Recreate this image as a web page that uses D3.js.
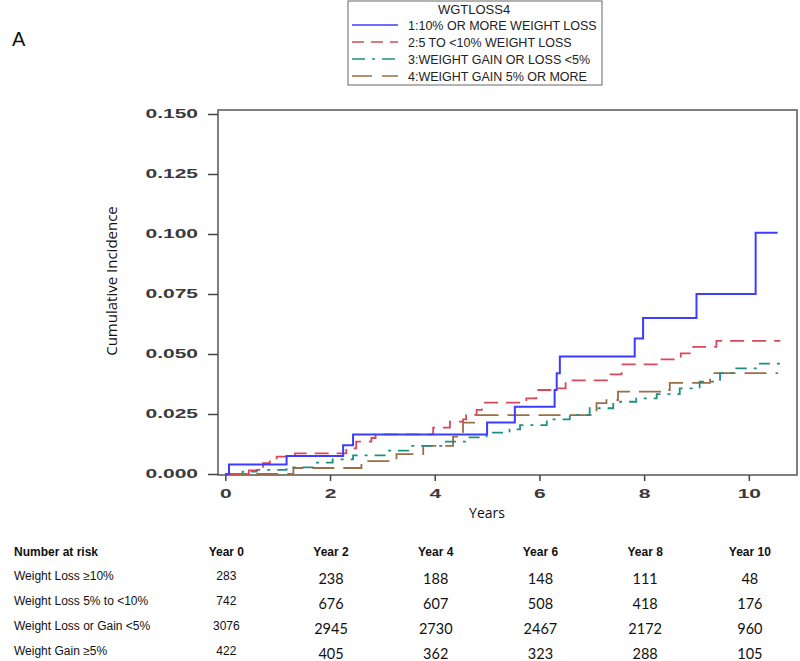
<!DOCTYPE html>
<html>
<head>
<meta charset="utf-8">
<script src="https://cdn.jsdelivr.net/npm/d3@7"></script>
<style>
  body { margin: 0; background: #fff; }
  text { font-family: "Liberation Sans", Arial, sans-serif; }
</style>
</head>
<body>
<div id="graph"></div>
<script>
var w = 800
var h = 661

// step points [years, cumulative incidence]
var lossTen = [[0,0],[0.07,0.004],[1.17,0.0075],[2.25,0.012],[2.44,0.0165],[5.0,0.0215],[5.53,0.028],
  [6.29,0.035],[6.33,0.042],[6.39,0.049],[7.82,0.0565],[7.98,0.065],[9.0,0.075],[10.13,0.1005],[10.55,0.1005]]
var lossFive = [[0,0],[0.45,0.0015],[0.6,0.003],[0.72,0.0045],[0.85,0.006],[0.98,0.0072],[1.33,0.0086],
  [2.31,0.0107],[2.5,0.0135],[2.79,0.015],[2.87,0.0165],[3.97,0.0193],[4.29,0.0218],[4.54,0.0228],
  [4.6,0.0246],[4.8,0.0267],[4.9,0.0297],[5.75,0.0315],[5.94,0.035],[6.29,0.0357],[6.5,0.039],
  [7.34,0.0415],[7.57,0.0457],[8.3,0.0478],[8.7,0.0503],[8.94,0.053],[9.38,0.0555],[10.6,0.0555]]
var stable = [[0,0],[0.33,0.001],[0.6,0.0017],[1.17,0.0028],[1.67,0.0047],[2.05,0.0061],[2.44,0.0078],
  [3.08,0.0097],[3.52,0.0117],[4.16,0.0135],[4.6,0.0153],[4.99,0.0172],[5.43,0.0186],[5.63,0.0204],
  [6.14,0.0228],[6.58,0.0246],[6.96,0.0274],[7.41,0.0301],[7.85,0.0315],[8.24,0.0333],[8.68,0.0357],
  [9.06,0.0385],[9.45,0.042],[9.76,0.044],[10.21,0.046],[10.7,0.0465]]
var gainFive = [[0,0],[1.3,0.0025],[2.6,0.0054],[3.27,0.0083],[3.78,0.0117],[4.35,0.0156],[4.54,0.0214],
  [4.8,0.0245],[7.09,0.0295],[7.28,0.0308],[7.5,0.0343],[8.43,0.035],[8.49,0.038],[9.26,0.042],[10.56,0.042]]

var legendTitle = "WGTLOSS4"
var seriesNames = ["1:10% OR MORE WEIGHT LOSS", "2:5 TO <10% WEIGHT LOSS",
  "3:WEIGHT GAIN OR LOSS <5%", "4:WEIGHT GAIN 5% OR MORE"]
var seriesColors = ["#3d3dff", "#d9485a", "#1f8f80", "#9b6d48"]
var seriesDash = [null, "14,8", "11,7,3,7", "22,9"]
var legendDash = [null, "12,7", "13,7,3,7", "20,10"]

var xTicks = [0, 2, 4, 6, 8, 10]
var yTicks = [0, 0.025, 0.05, 0.075, 0.1, 0.125, 0.15]

var riskYears = [0, 2, 4, 6, 8, 10]
var riskHeaders = ["Year 0", "Year 2", "Year 4", "Year 6", "Year 8", "Year 10"]
var riskGroups = ["Weight Loss \u226510%", "Weight Loss 5% to <10%", "Weight Loss or Gain <5%", "Weight Gain \u22655%"]
var riskLossTen = [283, 238, 188, 148, 111, 48]
var riskLossFive = [742, 676, 607, 508, 418, 176]
var riskStable = [3076, 2945, 2730, 2467, 2172, 960]
var riskGainFive = [422, 405, 362, 323, 288, 105]

var series = [lossTen, lossFive, stable, gainFive]
var riskRows = [riskLossTen, riskLossFive, riskStable, riskGainFive]

var svg = d3.select("#graph").append("svg")
    .attr("width", w)
    .attr("height", h)

// plot box (named so they do not clash with window.top)
var boxL = 218, boxR = 797, boxT = 110, boxB = 475

var x = d3.scaleLinear().domain([-0.14, 10.92]).range([boxL, boxR])
var y = d3.scaleLinear().domain([0, 0.15]).range([474, 114])

// panel letter
svg.append("text").attr("x", 12).attr("y", 46)
    .style("font-size", "20px").attr("fill", "#111").text("A")

// frame
svg.append("rect")
    .attr("x", boxL).attr("y", boxT)
    .attr("width", boxR - boxL).attr("height", boxB - boxT)
    .attr("fill", "none").attr("stroke", "#555").attr("stroke-width", 1.5)

// stretch the SAS style tick labels
function widen(sel) {
  sel.each(function () {
    var len = this.getComputedTextLength()
    d3.select(this).attr("textLength", len * 1.75).attr("lengthAdjust", "spacingAndGlyphs")
  })
}

var yAxis = svg.append("g")
    .attr("transform", "translate(" + boxL + ",0)")
    .call(d3.axisLeft(y).tickValues(yTicks).tickFormat(d3.format(".3f")).tickSize(10).tickPadding(10))
yAxis.select(".domain").remove()
yAxis.selectAll("line").attr("stroke", "#444").attr("stroke-width", 1.5)
yAxis.selectAll("text").style("font-size", "12px").style("font-weight", "bold").attr("fill", "#3a3a3a").call(widen)

var xAxis = svg.append("g")
    .attr("transform", "translate(0," + boxB + ")")
    .call(d3.axisBottom(x).tickValues(xTicks).tickFormat(d3.format("d")).tickSize(6).tickPadding(8))
xAxis.select(".domain").remove()
xAxis.selectAll("line").attr("stroke", "#444").attr("stroke-width", 1.5)
xAxis.selectAll("text").style("font-size", "12px").style("font-weight", "bold").attr("fill", "#3a3a3a").call(widen)

// axis titles
svg.append("text")
    .attr("transform", "translate(112,281) rotate(-90)")
    .attr("text-anchor", "middle").attr("dy", "0.35em")
    .style("font-family", "'Open Sans', sans-serif").style("font-size", "15px")
    .attr("fill", "#111").text("Cumulative Incidence")
svg.append("text")
    .attr("x", 487).attr("y", 518).attr("text-anchor", "middle")
    .style("font-family", "'Open Sans', sans-serif").style("font-size", "14px")
    .attr("fill", "#111").text("Years")

// step curves, drawn back to front
var line = d3.line()
    .x(function (d) { return x(d[0]) })
    .y(function (d) { return y(d[1]) })
    .curve(d3.curveStepAfter)

var order = [3, 2, 1, 0]
order.forEach(function (i) {
  svg.append("path")
      .datum(series[i])
      .attr("d", line)
      .attr("fill", "none")
      .attr("stroke", seriesColors[i])
      .attr("stroke-width", i === 0 ? 2 : 1.8)
      .attr("stroke-dasharray", seriesDash[i])
})

// legend
var legend = svg.append("g")
legend.append("rect")
    .attr("x", 348).attr("y", 1).attr("width", 254).attr("height", 84)
    .attr("fill", "#fff").attr("stroke", "#666").attr("stroke-width", 1)
legend.append("text")
    .attr("x", 474).attr("y", 14).attr("text-anchor", "middle")
    .style("font-size", "13px").attr("fill", "#222").text(legendTitle)

var item = legend.selectAll(".item")
    .data(seriesNames)
    .enter().append("g")
    .attr("class", "item")
    .attr("transform", function (d, i) { return "translate(0," + (26 + i * 17) + ")" })
item.append("line")
    .attr("x1", 352).attr("x2", 398).attr("y1", -1).attr("y2", -1)
    .attr("stroke", function (d, i) { return seriesColors[i] })
    .attr("stroke-width", 1.6)
    .attr("stroke-dasharray", function (d, i) { return legendDash[i] })
item.append("text")
    .attr("x", 408).attr("y", 4)
    .style("font-size", "12.5px").attr("fill", "#222")
    .text(function (d) { return d })

// number at risk table
var table = svg.append("g")
table.append("text")
    .attr("x", 14).attr("y", 556)
    .style("font-size", "12px").style("font-weight", "bold").attr("fill", "#111")
    .text("Number at risk")
table.selectAll(".hdr")
    .data(riskHeaders)
    .enter().append("text")
    .attr("class", "hdr")
    .attr("x", function (d, i) { return x(riskYears[i]) + 1 })
    .attr("y", 556).attr("text-anchor", "middle")
    .style("font-size", "12px").style("font-weight", "bold").attr("fill", "#111")
    .text(function (d) { return d })

var rowY = d3.scaleLinear().domain([0, 3]).range([580, 655])

riskGroups.forEach(function (g, r) {
  table.append("text")
      .attr("x", 14).attr("y", rowY(r))
      .style("font-size", "12px").attr("fill", "#111")
      .text(g)
  table.selectAll(".n" + r)
      .data(riskRows[r])
      .enter().append("text")
      .attr("x", function (d, i) { return x(riskYears[i]) + 1 })
      .attr("y", function (d, i) { return i === 0 ? rowY(r) : rowY(r) + 4 })
      .attr("text-anchor", "middle")
      .style("font-family", function (d, i) { return i === 0 ? "'Liberation Sans', Arial, sans-serif" : "Lato, sans-serif" })
      .style("font-size", function (d, i) { return i === 0 ? "12px" : "14.5px" })
      .attr("fill", "#111")
      .text(function (d) { return d })
})
</script>
</body>
</html>
